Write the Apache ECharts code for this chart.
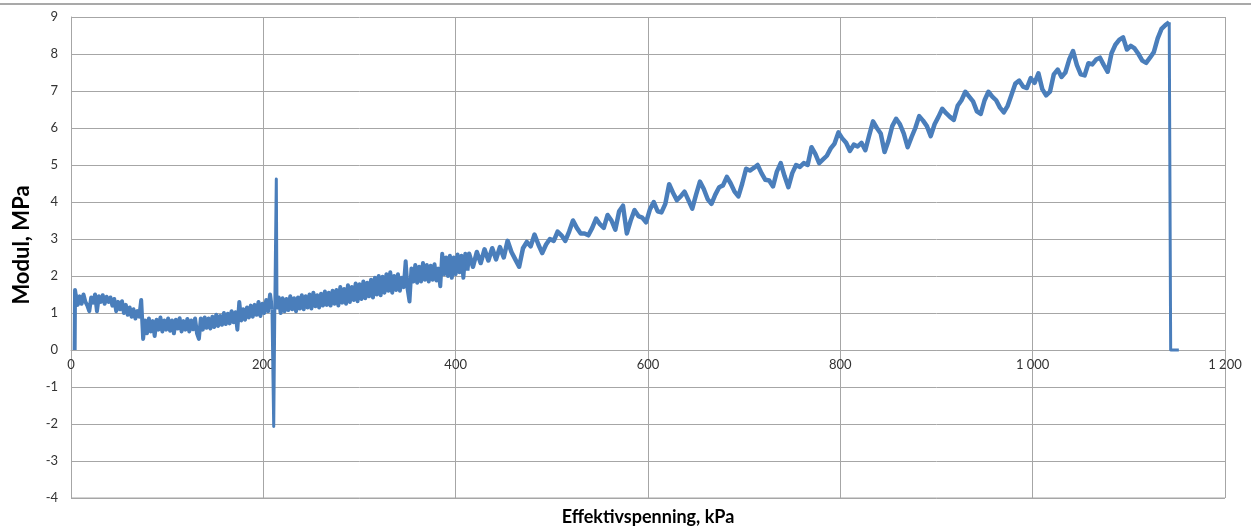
<!DOCTYPE html>
<html>
<head>
<meta charset="utf-8">
<script src="https://cdn.jsdelivr.net/npm/echarts@6/dist/echarts.min.js"></script>
<style>
  html, body { margin: 0; padding: 0; background: #fff; }
  #chart { width: 1251px; height: 531px; }
</style>
</head>
<body>
<div id="chart"></div>
<script>
// Effektivspenning (kPa) vs Modul (MPa)
const leadX = [3.8, 4.2];
const leadY = [0, 1.62];

// noisy start, sampled every 2 kPa from 5 to 209
const lowStart = 5, lowStep = 2;
const lowY = [
  1.48, 1.22, 1.45, 1.25, 1.5, 1.3, 1.2, 1.05, 1.42, 1.28, 1.5, 1.05, 1.45, 1.3, 1.48, 1.25, 1.44, 1.3,
  1.42, 1.2, 1.38, 1.05, 1.3, 1.1, 1.32, 1.0, 1.22, 0.95, 1.15, 0.9, 1.1, 0.85, 1.05, 0.9,
  1.35, 0.3,
  0.8, 0.45, 0.85, 0.5, 0.78, 0.38, 0.82, 0.55, 0.88, 0.5, 0.8, 0.55, 0.85, 0.52, 0.8, 0.45,
  0.82, 0.58, 0.86, 0.5, 0.78, 0.55, 0.84, 0.5, 0.8, 0.56, 0.85, 0.45, 0.3,
  0.85, 0.55, 0.88, 0.6, 0.85, 0.58, 0.9, 0.62, 0.95, 0.65, 0.92, 0.68, 1.0, 0.7, 0.98, 0.72,
  1.05, 0.75, 1.02, 0.55, 1.3, 0.8, 1.1, 0.82, 1.15, 0.88, 1.2, 0.9, 1.22, 0.95, 1.3, 0.92,
  1.25, 1.0, 1.35, 1.05, 1.5, 1.1
];

const spikeX = [210.8, 212, 213.5, 214.2];
const spikeY = [-2.07, 1.3, 4.62, 1.1];

// after the spike, every 2 kPa from 216 to 412
const midStart = 216, midStep = 2;
const midY = [
  1.42, 1.0, 1.4, 1.05, 1.38, 1.08, 1.45, 1.1, 1.4, 1.05, 1.42, 1.12, 1.48, 1.1, 1.45, 1.15, 1.5, 1.12,
  1.55, 1.18, 1.48, 1.15, 1.52, 1.2, 1.58, 1.22, 1.55, 1.2, 1.6, 1.25, 1.62, 1.2, 1.7, 1.28, 1.65, 1.25,
  1.75, 1.3, 1.7, 1.35, 1.8, 1.32, 1.78, 1.38, 1.85, 1.4, 1.82, 1.45, 1.9, 1.42, 1.95, 1.5, 2.0, 1.48,
  1.98, 1.55, 2.05, 1.6, 2.1, 1.55, 2.0, 1.62, 2.05, 1.6, 1.95, 1.7, 2.4, 1.65, 1.31, 2.2, 1.85, 2.3,
  1.82, 2.25, 1.85, 2.35, 1.9, 2.3, 1.85, 2.28, 1.9, 2.32, 1.88, 2.2, 1.72, 2.6, 2.05, 2.5, 2.0, 2.55,
  1.95, 2.5, 2.05, 2.58, 2.1, 2.55, 1.95, 2.6, 2.15
];

// rising part, every 4 kPa from 414 to 1142
const highStart = 414, highStep = 4;
const highY = [
  2.6, 2.25, 2.65, 2.35, 2.72, 2.42, 2.75, 2.45, 2.78, 2.5,
  2.95, 2.65, 2.45, 2.25, 2.75, 2.92, 2.8, 3.12, 2.85, 2.62,
  2.85, 3.0, 2.95, 3.2, 3.1, 2.95, 3.2, 3.5, 3.3, 3.15,
  3.15, 3.1, 3.3, 3.55, 3.4, 3.3, 3.65, 3.5, 3.25, 3.75,
  3.9, 3.15, 3.5, 3.78, 3.62, 3.58, 3.45, 3.8, 4.0, 3.75,
  3.72, 3.95, 4.48, 4.25, 4.05, 4.15, 4.28, 4.05, 3.82, 4.2,
  4.55, 4.35, 4.08, 3.95, 4.2, 4.4, 4.45, 4.68, 4.5, 4.28,
  4.15, 4.5, 4.9, 4.85, 4.92, 5.0, 4.78, 4.6, 4.58, 4.42,
  4.82, 5.05, 4.7, 4.4, 4.78, 5.0, 4.95, 5.05, 5.0, 5.48,
  5.3, 5.05, 5.15, 5.25, 5.45, 5.58, 5.88, 5.72, 5.6, 5.38,
  5.55, 5.5, 5.6, 5.4, 5.8, 6.18, 6.0, 5.85, 5.35, 5.65,
  6.05, 6.25, 6.1, 5.85, 5.48, 5.75, 6.0, 6.32, 6.2, 6.05,
  5.78, 6.1, 6.3, 6.52, 6.4, 6.3, 6.22, 6.6, 6.75, 6.98,
  6.85, 6.72, 6.45, 6.38, 6.75, 6.98, 6.85, 6.75, 6.55, 6.42,
  6.6, 6.9, 7.2, 7.28, 7.12, 7.08, 7.35, 7.22, 7.48, 7.05,
  6.88, 6.98, 7.45, 7.58, 7.38, 7.5, 7.85, 8.08, 7.7, 7.45,
  7.42, 7.75, 7.72, 7.85, 7.9, 7.7, 7.52, 8.02, 8.25, 8.38,
  8.45, 8.12, 8.22, 8.15, 8.0, 7.82, 7.76, 7.9, 8.05, 8.42,
  8.68, 8.78, 8.86
];

const tailX = [1143, 1143.5, 1152];
const tailY = [8.85, 0, 0];

const xTicks = { min: 0, max: 1200, step: 200 };
const yTicks = { min: -4, max: 9, step: 1 };

function sampled(start, step, ys) {
  return ys.map((y, i) => [start + i * step, y]);
}
function paired(xs, ys) {
  return xs.map((x, i) => [x, ys[i]]);
}
function last(arr) {
  return arr[arr.length - 1];
}

const startPoints = [].concat(paired(leadX, leadY), sampled(lowStart, lowStep, lowY));
const spikePoints = [last(startPoints)].concat(paired(spikeX, spikeY));
const midPoints = [last(spikePoints)].concat(sampled(midStart, midStep, midY));
const highPoints = [last(midPoints)].concat(sampled(highStart, highStep, highY));
const tailPoints = [last(highPoints)].concat(paired(tailX, tailY));

const chart = echarts.init(document.getElementById("chart"));
const gridColor = "#a6a6a6";
const lineColor = "#4a7ebb";
const labelFont = "Lato, 'Liberation Sans', sans-serif";

const gridTop = 17, gridBottom = 33, chartH = 531;
// keep the x labels on the zero line, like the original
const zeroOffset = -((chartH - gridTop - gridBottom) * (-yTicks.min) / (yTicks.max - yTicks.min));

function lineSeries(data, width) {
  return {
    type: "line",
    data: data,
    showSymbol: false,
    sampling: null,
    lineStyle: { color: lineColor, width: width, join: "round" },
  };
}

chart.setOption({
  animation: false,
  backgroundColor: "#fff",
  grid: { left: 71, right: 26, top: gridTop, bottom: gridBottom },
  xAxis: {
    type: "value",
    position: "bottom",
    offset: zeroOffset,
    min: xTicks.min,
    max: xTicks.max,
    interval: xTicks.step,
    axisLine: { onZero: false, lineStyle: { color: gridColor, width: 1 } },
    axisTick: { show: false },
    splitLine: { lineStyle: { color: gridColor, width: 1 } },
    axisLabel: {
      color: "#333",
      fontSize: 13,
      fontFamily: labelFont,
      margin: 8,
      formatter: (v) => (v >= 1000 ? String(v).replace(/(\d)(\d{3})$/, "$1 $2") : String(v)),
    },
  },
  yAxis: {
    type: "value",
    min: yTicks.min,
    max: yTicks.max,
    interval: yTicks.step,
    axisLine: { show: true, onZero: false, lineStyle: { color: gridColor, width: 1 } },
    axisTick: { show: false },
    splitLine: { lineStyle: { color: gridColor, width: 1 } },
    axisLabel: { color: "#333", fontSize: 13, fontFamily: labelFont, margin: 13 },
  },
  graphic: [
    {
      type: "line",
      shape: { x1: 0, y1: 4, x2: 1251, y2: 4 },
      style: { stroke: "#8c8c8c", lineWidth: 1.5 },
    },
    {
      type: "line",
      shape: { x1: 71, y1: chartH - gridBottom, x2: 1225, y2: chartH - gridBottom },
      style: { stroke: gridColor, lineWidth: 1 },
    },
    {
      type: "text",
      x: 648,
      y: 517,
      style: {
        text: "Effektivspenning, kPa",
        font: "bold 18px " + labelFont,
        fill: "#000",
        align: "center",
        verticalAlign: "middle",
      },
    },
    {
      type: "text",
      x: 22,
      y: 245,
      rotation: Math.PI / 2,
      style: {
        text: "Modul, MPa",
        font: "bold 22px " + labelFont,
        fill: "#000",
        align: "center",
        verticalAlign: "middle",
      },
    },
  ],
  series: [
    lineSeries(startPoints, 4),
    lineSeries(spikePoints, 3),
    lineSeries(midPoints, 4),
    lineSeries(highPoints, 4.5),
    lineSeries(tailPoints, 3),
  ],
});

window.addEventListener("resize", () => chart.resize());
</script>
</body>
</html>
